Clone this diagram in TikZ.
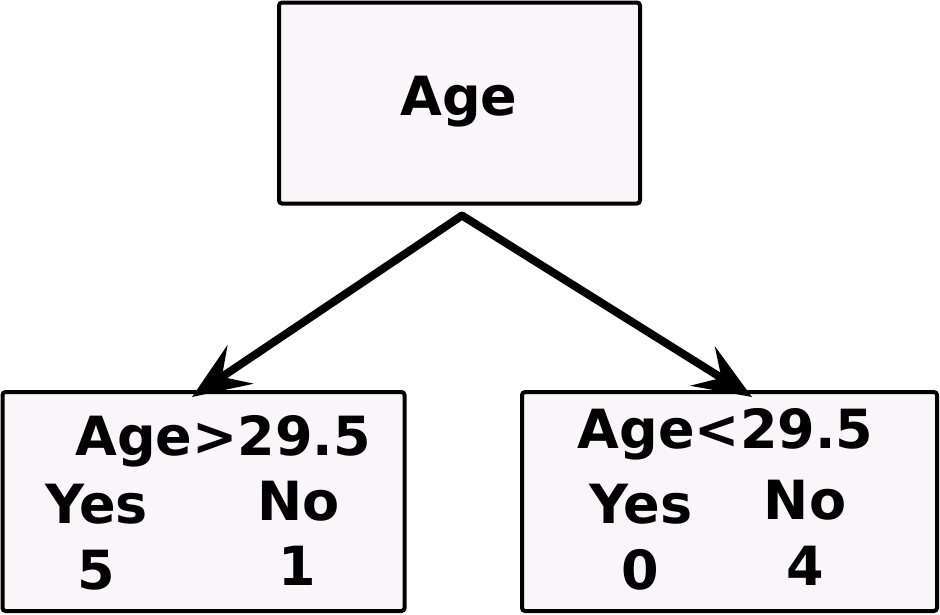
\documentclass[tikz,border=0pt]{standalone}
\usepackage{fontspec}
\setmainfont{DejaVu Sans}
\usetikzlibrary{arrows.meta}
\definecolor{boxfill}{RGB}{250,245,249}
\begin{document}
\begin{tikzpicture}[x=1pt,y=1pt,
  treebox/.style={draw=black, line width=4pt, fill=boxfill, rounded corners=3pt, inner sep=0pt},
  lbl/.style={font=\fontsize{54}{60}\selectfont\bfseries, inner sep=0pt, anchor=base},
  arr/.style={line width=8pt, -{Stealth[length=58pt, width=46pt, inset=22pt]}}]
\useasboundingbox (0,0) rectangle (940,-614);
% boxes
\node[treebox, minimum width=361pt, minimum height=201pt] (top) at (459.5,-103) {};
\node[treebox, minimum width=402pt, minimum height=219pt] (lbox) at (203.5,-501.5) {};
\node[treebox, minimum width=415pt, minimum height=219pt] (rbox) at (729.5,-501.5) {};
% labels
\node[lbl] (tAge) at (459,-115) {Age};
\node[lbl] (lAge) at (223,-455) {Age>29.5};
\node[lbl] (lYes) at (96.5,-523) {Yes};
\node[lbl] (lNo) at (298.5,-520) {No};
\node[lbl] (lYv) at (96,-589) {5};
\node[lbl] (lNv) at (297.5,-585) {1};
\node[lbl] (rAge) at (725.5,-448) {Age<29.5};
\node[lbl] (rYes) at (641,-523) {Yes};
\node[lbl] (rNo) at (805,-519) {No};
\node[lbl] (rYv) at (640.5,-589) {0};
\node[lbl] (rNv) at (805,-585) {4};
% connectors
\coordinate (apex) at ([xshift=2.5pt,yshift=-10pt]top.south);
\draw[arr] (apex) -- ([xshift=-11.5pt,yshift=-7pt]lbox.north);
\draw[arr] (apex) -- ([xshift=22.5pt,yshift=-7pt]rbox.north);
\fill (apex) circle (4pt);
\end{tikzpicture}
\end{document}
